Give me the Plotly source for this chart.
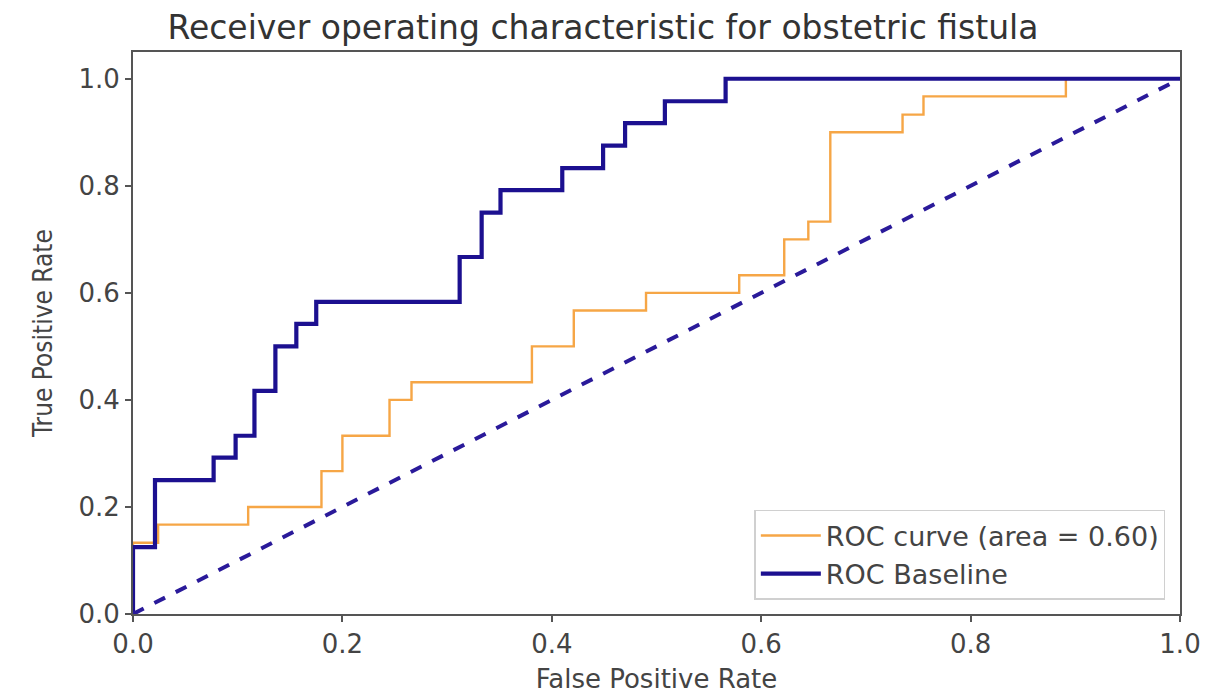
import plotly.graph_objects as go

# ROC step points: false positive rate where each rise happens, true positive rate after it
roc_fpr = [0, 0, 0.024, 0.11, 0.18, 0.2, 0.245, 0.266, 0.381, 0.421, 0.49,
           0.579, 0.622, 0.645, 0.666, 0.735, 0.755, 0.891, 1.0]
roc_tpr = [0, 0.133, 0.167, 0.2, 0.267, 0.333, 0.4, 0.433, 0.5, 0.567, 0.6,
           0.633, 0.7, 0.733, 0.9, 0.933, 0.967, 1.0, 1.0]

base_fpr = [0, 0, 0.021, 0.077, 0.098, 0.116, 0.136, 0.156, 0.175, 0.312,
            0.333, 0.351, 0.41, 0.449, 0.47, 0.508, 0.566, 1.0]
base_tpr = [0, 0.125, 0.25, 0.292, 0.333, 0.417, 0.5, 0.542, 0.583, 0.667,
            0.75, 0.792, 0.833, 0.875, 0.917, 0.958, 1.0, 1.0]

chance_x = [0, 1]
chance_y = [0, 1]

roc_label = "ROC curve (area = 0.60)"
base_label = "ROC Baseline"
tick_vals = [0.0, 0.2, 0.4, 0.6, 0.8, 1.0]
tick_text = ["0.0", "0.2", "0.4", "0.6", "0.8", "1.0"]

ORANGE = "#f6a646"
NAVY = "#1c1090"
TEXT = "#444444"
FONT = "DejaVu Sans"

fig = go.Figure()
fig.add_trace(go.Scatter(x=roc_fpr, y=roc_tpr, mode="lines", line_shape="hv",
                         line=dict(color=ORANGE, width=2.4), name=roc_label))
fig.add_trace(go.Scatter(x=base_fpr, y=base_tpr, mode="lines", line_shape="hv",
                         line=dict(color=NAVY, width=4.2), name=base_label))
fig.add_trace(go.Scatter(x=chance_x, y=chance_y, mode="lines",
                         line=dict(color="#2a1a9a", width=4, dash="dash"),
                         showlegend=False))

axis_common = dict(
    showgrid=False, zeroline=False, showline=True, linecolor="#555555",
    linewidth=2, mirror=True, ticks="outside", ticklen=6, tickwidth=2,
    tickcolor="#555555", tickvals=tick_vals, ticktext=tick_text,
    tickfont=dict(family=FONT, size=26, color=TEXT), automargin=False,
)

fig.update_layout(
    width=1206, height=696,
    margin=dict(l=133, r=26, t=52, b=82),
    paper_bgcolor="white", plot_bgcolor="white",
    title=dict(text="Receiver operating characteristic for obstetric fistula",
               x=0.5, xanchor="center", y=0.96, yanchor="middle",
               font=dict(family=FONT, size=33, color="#333333")),
    xaxis=dict(range=[0, 1], title=dict(text="False Positive Rate", standoff=12,
               font=dict(family=FONT, size=26, color=TEXT)), **axis_common),
    yaxis=dict(range=[0, 1.05], title=dict(text="True Positive Rate", standoff=18,
               font=dict(family="DejaVu Sans Condensed, DejaVu Sans", size=26, color=TEXT)),
               **axis_common),
    legend=dict(x=0.986, y=0.025, xanchor="right", yanchor="bottom",
                bgcolor="rgba(255,255,255,0.85)", bordercolor="#d0d0d0", borderwidth=1.5,
                font=dict(family=FONT, size=27, color=TEXT), itemwidth=60,
                tracegroupgap=0),
)

fig.write_html("out.html")
